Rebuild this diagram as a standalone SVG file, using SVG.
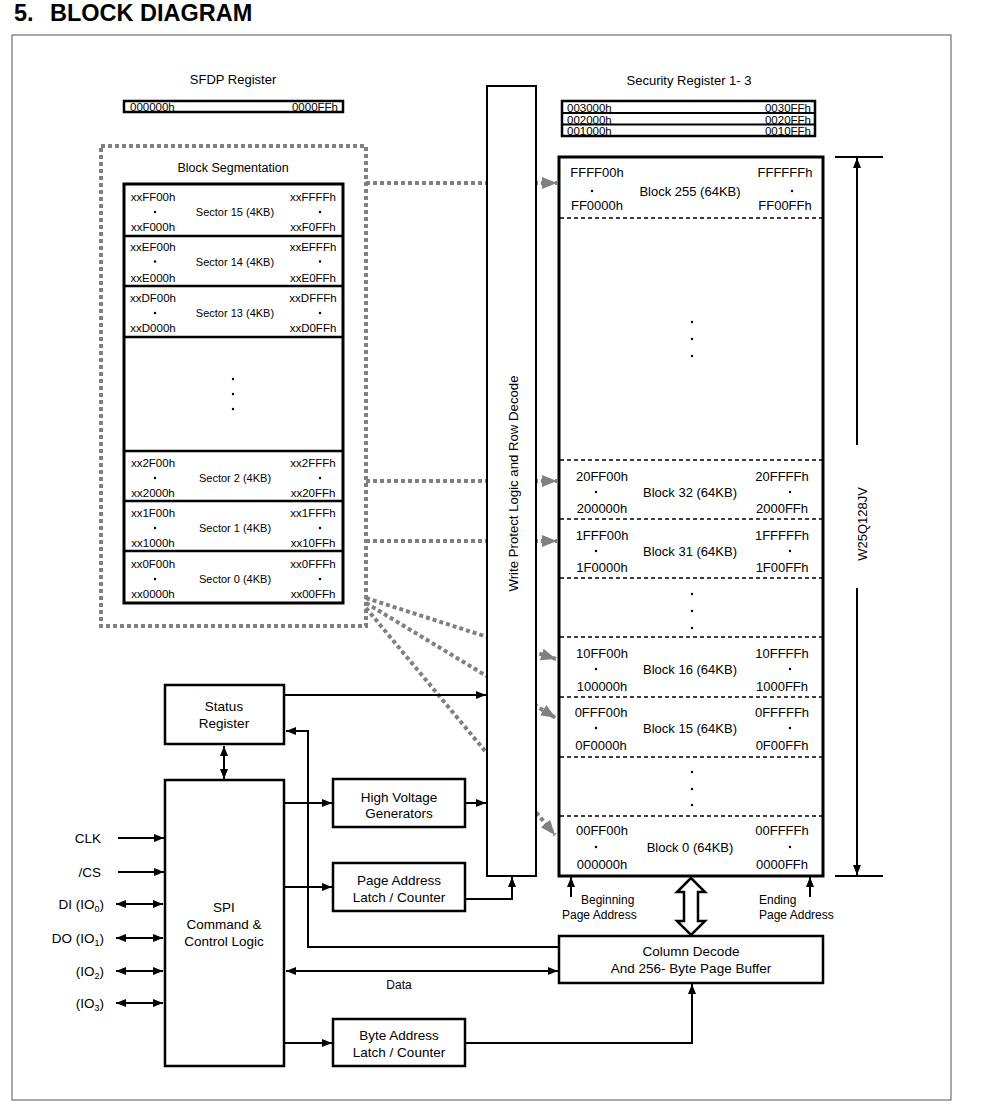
<svg xmlns="http://www.w3.org/2000/svg" width="991" height="1113" viewBox="0 0 991 1113">
<defs>
<style>
text{font-family:"Liberation Sans",Arial,sans-serif;fill:#000}
.t13{font-size:13px}
.t135{font-size:13.5px}
.t12{font-size:12px}
.t115{font-size:11.5px}
.t11{font-size:11px}
.m{text-anchor:middle}
.e{text-anchor:end}
.box{fill:#fff;stroke:#000;stroke-width:2.5}
.thick{fill:#fff;stroke:#000;stroke-width:3}
.sep{stroke:#000;stroke-width:2.5}
.dash{stroke:#000;stroke-width:1.5;stroke-dasharray:4 3}
.wire{fill:none;stroke:#000;stroke-width:2}
.gray{fill:none;stroke:#808080;stroke-width:4;stroke-dasharray:4 3}
</style>
<marker id="ah" viewBox="0 0 10 10" refX="10" refY="5" markerWidth="11" markerHeight="10" markerUnits="userSpaceOnUse" orient="auto-start-reverse"><path d="M0,1 L10,5 L0,9 z" fill="#000"/></marker>
<marker id="gh" viewBox="0 0 10 10" refX="10" refY="5" markerWidth="15" markerHeight="15" markerUnits="userSpaceOnUse" orient="auto"><path d="M0,1 L10,5 L0,9 z" fill="#808080"/></marker>
</defs>
<rect width="991" height="1113" fill="#fff"/>
<text x="14" y="21" style="font-size:23.5px;font-weight:bold">5.<tspan x="50">BLOCK DIAGRAM</tspan></text>
<rect x="12" y="35" width="939" height="1065" fill="none" stroke="#555" stroke-width="1"/>

<g id="connectors">
<path class="gray" d="M366,183 H557" marker-end="url(#gh)"/>
<path class="gray" d="M366,481 H557" marker-end="url(#gh)"/>
<path class="gray" d="M366,541 H557" marker-end="url(#gh)"/>
<path class="gray" d="M366,598 L556,659" marker-end="url(#gh)"/>
<path class="gray" d="M366,603 L556,718" marker-end="url(#gh)"/>
<path class="gray" d="M366,608 L555,835" marker-end="url(#gh)"/>
</g>

<g id="sfdp">
<text x="233" y="84" class="t13 m">SFDP Register</text>
<rect x="124" y="101" width="219" height="11" fill="#fff" stroke="#000" stroke-width="2.5"/>
<text x="130" y="110.5" class="t115">000000h</text>
<text x="338" y="110.5" class="t115 e">0000FFh</text>
</g>

<g id="security">
<text x="689" y="85" class="t13 m">Security Register 1- 3</text>
<rect x="562" y="101" width="253" height="35" fill="#fff" stroke="#000" stroke-width="2.5"/>
<line x1="562" y1="113" x2="815" y2="113" stroke="#000" stroke-width="2"/>
<line x1="562" y1="124.5" x2="815" y2="124.5" stroke="#000" stroke-width="2"/>
<text x="567" y="112" class="t115">003000h</text><text x="811" y="112" class="t115 e">0030FFh</text>
<text x="567" y="123.5" class="t115">002000h</text><text x="811" y="123.5" class="t115 e">0020FFh</text>
<text x="567" y="135" class="t115">001000h</text><text x="811" y="135" class="t115 e">0010FFh</text>
</g>

<g id="block-segmentation">
<rect x="101" y="146" width="265" height="480" fill="none" stroke="#808080" stroke-width="4" stroke-dasharray="4 3"/>
<text x="233" y="171.5" class="t12 m" style="font-size:12.5px">Block Segmentation</text>
<rect x="124" y="184" width="219" height="419" class="thick"/>
<line class="sep" x1="124" y1="236" x2="343" y2="236"/>
<line class="sep" x1="124" y1="286" x2="343" y2="286"/>
<line class="sep" x1="124" y1="337" x2="343" y2="337"/>
<line class="sep" x1="124" y1="451" x2="343" y2="451"/>
<line class="sep" x1="124" y1="501" x2="343" y2="501"/>
<line class="sep" x1="124" y1="551" x2="343" y2="551"/>
<g class="t115">
<text x="153" y="201" class="m">xxFF00h</text><text x="313" y="201" class="m">xxFFFFh</text>
<text x="153" y="231" class="m">xxF000h</text><text x="313" y="231" class="m">xxF0FFh</text>
<text x="153" y="251" class="m">xxEF00h</text><text x="313" y="251" class="m">xxEFFFh</text>
<text x="153" y="282" class="m">xxE000h</text><text x="313" y="282" class="m">xxE0FFh</text>
<text x="153" y="302" class="m">xxDF00h</text><text x="313" y="302" class="m">xxDFFFh</text>
<text x="153" y="332" class="m">xxD000h</text><text x="313" y="332" class="m">xxD0FFh</text>
<text x="153" y="466.5" class="m">xx2F00h</text><text x="313" y="466.5" class="m">xx2FFFh</text>
<text x="153" y="497" class="m">xx2000h</text><text x="313" y="497" class="m">xx20FFh</text>
<text x="153" y="516.5" class="m">xx1F00h</text><text x="313" y="516.5" class="m">xx1FFFh</text>
<text x="153" y="547" class="m">xx1000h</text><text x="313" y="547" class="m">xx10FFh</text>
<text x="153" y="567.5" class="m">xx0F00h</text><text x="313" y="567.5" class="m">xx0FFFh</text>
<text x="153" y="598" class="m">xx0000h</text><text x="313" y="598" class="m">xx00FFh</text>
</g>
<g class="t11">
<text x="235" y="216" class="m">Sector 15 (4KB)</text>
<text x="235" y="265.5" class="m">Sector 14 (4KB)</text>
<text x="235" y="317" class="m">Sector 13 (4KB)</text>
<text x="235" y="482" class="m">Sector 2 (4KB)</text>
<text x="235" y="532" class="m">Sector 1 (4KB)</text>
<text x="235" y="583" class="m">Sector 0 (4KB)</text>
</g>
<g fill="#000">
<circle cx="155" cy="212" r="1.2"/><circle cx="320" cy="212" r="1.2"/>
<circle cx="155" cy="261.5" r="1.2"/><circle cx="320" cy="261.5" r="1.2"/>
<circle cx="155" cy="313" r="1.2"/><circle cx="320" cy="313" r="1.2"/>
<circle cx="155" cy="478" r="1.2"/><circle cx="320" cy="478" r="1.2"/>
<circle cx="155" cy="528" r="1.2"/><circle cx="320" cy="528" r="1.2"/>
<circle cx="155" cy="579" r="1.2"/><circle cx="320" cy="579" r="1.2"/>
<circle cx="233" cy="379" r="1.2"/><circle cx="233" cy="394" r="1.2"/><circle cx="233" cy="409" r="1.2"/>
</g>
</g>

<g id="write-protect">
<rect x="487" y="86" width="49" height="790" fill="#fff" stroke="#000" stroke-width="2"/>
<text transform="translate(517.5,483.5) rotate(-90)" class="m" style="font-size:13.2px">Write Protect Logic and Row Decode</text>
</g>

<g id="memory-array">
<rect x="559" y="157" width="264" height="719" class="thick"/>
<line class="dash" x1="560" y1="218" x2="822" y2="218"/>
<line class="dash" x1="560" y1="460" x2="822" y2="460"/>
<line class="dash" x1="560" y1="519" x2="822" y2="519"/>
<line class="dash" x1="560" y1="578" x2="822" y2="578"/>
<line class="dash" x1="560" y1="637" x2="822" y2="637"/>
<line class="dash" x1="560" y1="697" x2="822" y2="697"/>
<line class="dash" x1="560" y1="757" x2="822" y2="757"/>
<line class="dash" x1="560" y1="816" x2="822" y2="816"/>
<g class="t13">
<text x="597" y="176.5" class="m">FFFF00h</text><text x="785" y="176.5" class="m">FFFFFFh</text>
<text x="597" y="209.5" class="m">FF0000h</text><text x="785" y="209.5" class="m">FF00FFh</text>
<text x="690" y="195.5" class="m">Block 255 (64KB)</text>
<text x="602" y="480.5" class="m">20FF00h</text><text x="782" y="480.5" class="m">20FFFFh</text>
<text x="602" y="512.5" class="m">200000h</text><text x="782" y="512.5" class="m">2000FFh</text>
<text x="690" y="496.5" class="m">Block 32 (64KB)</text>
<text x="602" y="539.5" class="m">1FFF00h</text><text x="782" y="539.5" class="m">1FFFFFh</text>
<text x="602" y="571.5" class="m">1F0000h</text><text x="782" y="571.5" class="m">1F00FFh</text>
<text x="690" y="555.5" class="m">Block 31 (64KB)</text>
<text x="602" y="657.5" class="m">10FF00h</text><text x="782" y="657.5" class="m">10FFFFh</text>
<text x="602" y="690.5" class="m">100000h</text><text x="782" y="690.5" class="m">1000FFh</text>
<text x="690" y="673.5" class="m">Block 16 (64KB)</text>
<text x="601" y="716.5" class="m">0FFF00h</text><text x="782" y="716.5" class="m">0FFFFFh</text>
<text x="601" y="749.5" class="m">0F0000h</text><text x="782" y="749.5" class="m">0F00FFh</text>
<text x="690" y="732.5" class="m">Block 15 (64KB)</text>
<text x="602" y="834.5" class="m">00FF00h</text><text x="782" y="834.5" class="m">00FFFFh</text>
<text x="602" y="868.5" class="m">000000h</text><text x="782" y="868.5" class="m">0000FFh</text>
<text x="690" y="851.5" class="m">Block 0 (64KB)</text>
</g>
<g fill="#000">
<circle cx="592" cy="191" r="1.2"/><circle cx="792" cy="191" r="1.2"/>
<circle cx="596" cy="492" r="1.2"/><circle cx="790" cy="492" r="1.2"/>
<circle cx="596" cy="551" r="1.2"/><circle cx="790" cy="551" r="1.2"/>
<circle cx="596" cy="669" r="1.2"/><circle cx="790" cy="669" r="1.2"/>
<circle cx="596" cy="728" r="1.2"/><circle cx="790" cy="728" r="1.2"/>
<circle cx="596" cy="847" r="1.2"/><circle cx="790" cy="847" r="1.2"/>
<circle cx="692" cy="322" r="1.2"/><circle cx="692" cy="339" r="1.2"/><circle cx="692" cy="356" r="1.2"/>
<circle cx="692" cy="594" r="1.2"/><circle cx="692" cy="611" r="1.2"/><circle cx="692" cy="628" r="1.2"/>
<circle cx="692" cy="772" r="1.2"/><circle cx="692" cy="789" r="1.2"/><circle cx="692" cy="805" r="1.2"/>
</g>
</g>

<g id="dimension">
<line x1="835" y1="157" x2="883" y2="157" stroke="#000" stroke-width="2"/>
<line x1="835" y1="876" x2="883" y2="876" stroke="#000" stroke-width="2"/>
<line x1="857" y1="445" x2="857" y2="158" class="wire" marker-end="url(#ah)"/>
<line x1="857" y1="588" x2="857" y2="875" class="wire" marker-end="url(#ah)"/>
<text transform="translate(866.5,524) rotate(-90)" class="t13 m">W25Q128JV</text>
</g>

<g id="status-register">
<rect x="165" y="685" width="119" height="59" class="box"/>
<text x="224" y="711" class="t135 m">Status</text>
<text x="224" y="728" class="t135 m">Register</text>
</g>

<g id="spi">
<rect x="165" y="780" width="119" height="286" class="box"/>
<text x="224" y="912" class="t135 m">SPI</text>
<text x="224" y="929" class="t135 m">Command &amp;</text>
<text x="224" y="946" class="t135 m">Control Logic</text>
</g>

<g id="high-voltage">
<rect x="333" y="779" width="132" height="48" class="box"/>
<text x="399" y="801.5" class="t135 m">High Voltage</text>
<text x="399" y="818" class="t135 m">Generators</text>
</g>

<g id="page-address">
<rect x="333" y="863" width="132" height="48" class="box"/>
<text x="399" y="885" class="t135 m">Page Address</text>
<text x="399" y="902" class="t135 m">Latch / Counter</text>
</g>

<g id="byte-address">
<rect x="333" y="1019" width="132" height="47" class="box"/>
<text x="399" y="1040" class="t135 m">Byte Address</text>
<text x="399" y="1057" class="t135 m">Latch / Counter</text>
</g>

<g id="column-decode">
<rect x="559" y="936" width="264" height="47" class="box"/>
<text x="691" y="956" class="t135 m">Column Decode</text>
<text x="691" y="973" class="t135 m">And 256- Byte Page Buffer</text>
</g>

<g id="pins" class="t135">
<text x="101" y="843" class="e">CLK</text>
<text x="101" y="877" class="e">/CS</text>
<text x="104" y="909" class="e">DI (IO<tspan font-size="9" dy="3">0</tspan><tspan dy="-3">)</tspan></text>
<text x="104" y="943" class="e">DO (IO<tspan font-size="9" dy="3">1</tspan><tspan dy="-3">)</tspan></text>
<text x="104" y="976" class="e">(IO<tspan font-size="9" dy="3">2</tspan><tspan dy="-3">)</tspan></text>
<text x="104" y="1008" class="e">(IO<tspan font-size="9" dy="3">3</tspan><tspan dy="-3">)</tspan></text>
</g>

<g id="wires">
<line class="wire" x1="118" y1="838" x2="164" y2="838" marker-end="url(#ah)"/>
<line class="wire" x1="118" y1="872" x2="164" y2="872" marker-end="url(#ah)"/>
<line class="wire" x1="116" y1="904" x2="163" y2="904" marker-start="url(#ah)" marker-end="url(#ah)"/>
<line class="wire" x1="116" y1="938" x2="163" y2="938" marker-start="url(#ah)" marker-end="url(#ah)"/>
<line class="wire" x1="116" y1="971" x2="163" y2="971" marker-start="url(#ah)" marker-end="url(#ah)"/>
<line class="wire" x1="116" y1="1003" x2="163" y2="1003" marker-start="url(#ah)" marker-end="url(#ah)"/>
<line class="wire" x1="224" y1="746" x2="224" y2="779" marker-start="url(#ah)" marker-end="url(#ah)"/>
<line class="wire" x1="285" y1="695" x2="486" y2="695" marker-end="url(#ah)"/>
<polyline class="wire" points="558,947 308,947 308,731 286,731" marker-end="url(#ah)"/>
<line class="wire" x1="285" y1="803" x2="332" y2="803" marker-end="url(#ah)"/>
<line class="wire" x1="466" y1="803" x2="486" y2="803" marker-end="url(#ah)"/>
<line class="wire" x1="285" y1="887" x2="332" y2="887" marker-end="url(#ah)"/>
<polyline class="wire" points="466,899 512,899 512,877" marker-end="url(#ah)"/>
<line class="wire" x1="286" y1="971" x2="558" y2="971" marker-start="url(#ah)" marker-end="url(#ah)"/>
<text x="399" y="988.5" class="t12 m">Data</text>
<line class="wire" x1="285" y1="1043" x2="332" y2="1043" marker-end="url(#ah)"/>
<polyline class="wire" points="466,1043 692,1043 692,984" marker-end="url(#ah)"/>
<line class="wire" x1="571" y1="897" x2="571" y2="877" marker-end="url(#ah)"/>
<line class="wire" x1="810" y1="897" x2="810" y2="877" marker-end="url(#ah)"/>
<polygon points="691,878 677,892 684,892 684,921 677,921 691,935 705,921 698,921 698,892 705,892" fill="#fff" stroke="#000" stroke-width="2.5"/>
<text x="581" y="903.5" class="t12">Beginning</text>
<text x="562" y="918.5" class="t12">Page Address</text>
<text x="759" y="903.5" class="t12">Ending</text>
<text x="759" y="918.5" class="t12">Page Address</text>
</g>
</svg>
